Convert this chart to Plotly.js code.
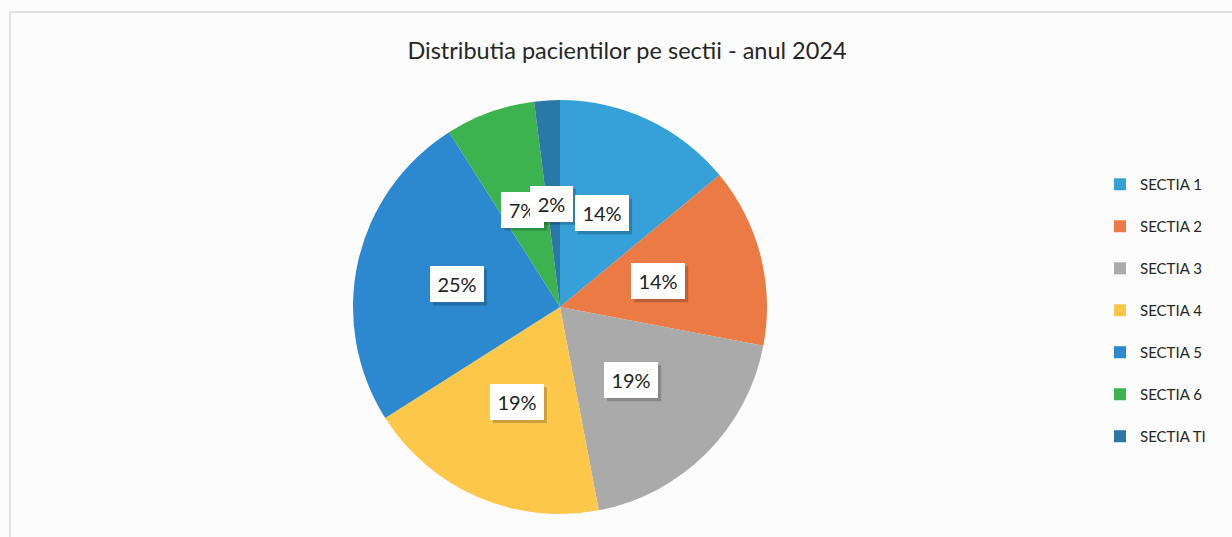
<!DOCTYPE html>
<html>
<head>
<meta charset="utf-8">
<script src="https://cdn.plot.ly/plotly-3.0.1.min.js"></script>
<style>
html,body{margin:0;padding:0;background:#fcfcfc;}
#chart{width:1232px;height:537px;}
</style>
</head>
<body>
<div id="chart"></div>
<script>
const categories = ["SECTIA 1","SECTIA 2","SECTIA 3","SECTIA 4","SECTIA 5","SECTIA 6","SECTIA TI"];
const values = [14, 14, 19, 19, 25, 7, 2];
const colors = ["#35a1d8","#ec7a45","#a9aaa9","#fdc84a","#2c88cf","#3db350","#2a78a8"];
const titleText = "Distributia pacientilor pe sectii - anul 2024";

const W = 1232, H = 537;
const dom = {x:[353/W, 767/W], y:[1-514/H, 1-100/H]};
const FONT = "Lato, 'Open Sans', sans-serif";

// label positions derived from the values (angle of each slice's middle)
const total = values.reduce((a,b)=>a+b,0);
const cxPx = (dom.x[0]+dom.x[1])/2*W;
const cyPx = (1-(dom.y[0]+dom.y[1])/2)*H;
const rPx = Math.min((dom.x[1]-dom.x[0])*W, (dom.y[1]-dom.y[0])*H)/2;
const PAD = 8, TH = 20;
let cum = 0;
const shadowShapes = [], labelsAnn = [];
values.forEach((v,i)=>{
  const mid = (cum + v/2)/total*2*Math.PI;
  cum += v;
  const px = cxPx + 0.5*rPx*Math.sin(mid) - 2;
  const py = cyPx - 0.5*rPx*Math.cos(mid);
  const txt = Math.round(v/total*100)+'%';
  const tw = txt.length === 3 ? 38 : 27;
  const hw = tw/2 + PAD, hh = TH/2 + PAD;
  const ax = px/W, ay = 1-py/H;
  shadowShapes.push({
    type:'rect', xref:'paper', yref:'paper', xsizemode:'pixel', ysizemode:'pixel',
    xanchor: ax, yanchor: ay, x0: -hw+3, x1: hw+3, y0: -hh-3, y1: hh-3,
    fillcolor:'rgba(0,0,0,0.2)', line:{width:0}, layer:'above'
  });
  labelsAnn.push({
    x: ax, y: ay, xref:'paper', yref:'paper', xanchor:'center', yanchor:'middle',
    showarrow:false,
    text: txt, width: tw, height: TH, align:'center', valign:'middle',
    font:{family:FONT, size:20, color:'#222222'},
    bgcolor:'#ffffff', borderpad:PAD, borderwidth:0
  });
});

const trace = {
  type:'pie',
  labels: categories.map(c => c + '<br> '),
  values: values,
  marker:{colors: colors, line:{width:0}},
  sort:false,
  direction:'clockwise',
  rotation:0,
  textinfo:'none',
  hoverinfo:'label+percent',
  domain: dom
};

const layout = {
  width:W, height:H,
  margin:{l:0,r:0,t:0,b:0},
  paper_bgcolor:'#fcfcfc',
  title:{text:titleText, x:627/W, xanchor:'center', y:1-51/H, yanchor:'middle',
         font:{family:FONT, size:23.5, color:'#262626'}},
  showlegend:true,
  legend:{x:1100/W, xanchor:'left', y:1-168/H, yanchor:'top',
          font:{family:FONT, size:15, color:'#262626'},
          bgcolor:'rgba(0,0,0,0)', itemwidth:30, valign:'top'},
  annotations: labelsAnn,
  shapes: [{type:'rect', xref:'paper', yref:'paper', x0:10/W, x1:1.05, y0:-0.05, y1:1-12/H,
           line:{color:'#d9d9d9', width:1.5}, fillcolor:'rgba(0,0,0,0)', layer:'below'}].concat(shadowShapes)
};

Plotly.newPlot('chart', [trace], layout, {displayModeBar:false, staticPlot:true});
</script>
</body>
</html>
